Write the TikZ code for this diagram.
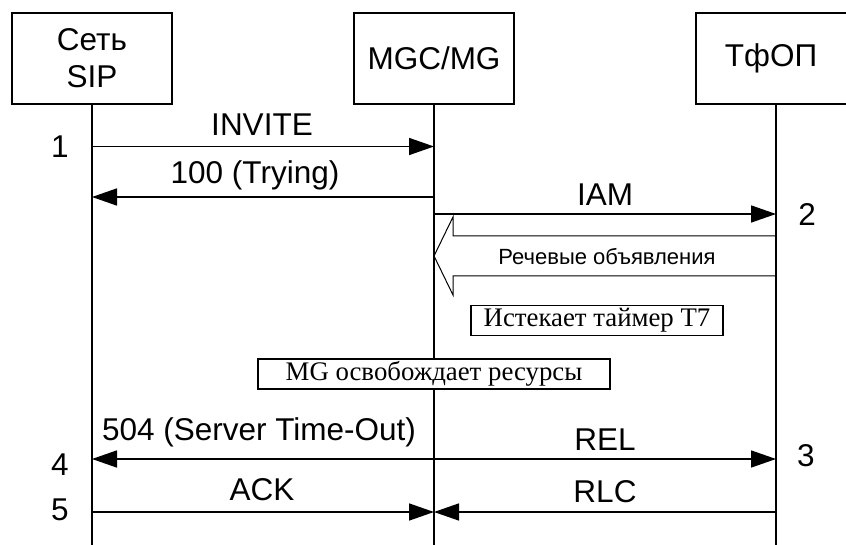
\documentclass[tikz,border=0pt]{standalone}
\usepackage{fontspec}
\setmainfont{Liberation Serif}
\newfontfamily\sansf{Liberation Sans}
\usetikzlibrary{arrows.meta}
\begin{document}
\begin{tikzpicture}[x=1pt,y=-1pt,
  ent/.style={draw,line width=2pt,minimum width=160pt,minimum height=91pt,
    font=\sansf\fontsize{31.5}{37}\selectfont,align=center,inner sep=0pt},
  life/.style={line width=1.5pt},
  msg/.style={line width=1.6pt,-{Triangle[length=25pt,width=17pt]}},
  lab/.style={font=\sansf\fontsize{31.5}{36}\selectfont,inner sep=0pt},
  small/.style={font=\sansf\fontsize{22}{25}\selectfont,inner sep=0pt},
  notebox/.style={draw,line width=1.5pt,fill=white,font=\fontsize{26.8}{30}\selectfont,
    inner sep=0pt,minimum height=30pt}]
\clip (0,0) rectangle (846,545);
\fill[white] (0,0) rectangle (846,545);
% entities
\node[ent] (sip) at (92,58.5) {Сеть\\SIP};
\node[ent] (mgc) at (434,58.5) {MGC/MG};
\node[ent] (pstn) at (776,58.5) {};
\node[lab] (pstnlabel) at (771,58.5) {ТфОП};
% lifeline ends
\coordinate (sipB) at (92,550);
\coordinate (mgcB) at (434,550);
\coordinate (pstnB) at (776,550);
\draw[life] (sip.south) -- (sipB);
\draw[life] (mgc.south) -- (mgcB);
\draw[life] (pstn.south) -- (pstnB);
% message end points
\coordinate (s1) at (92,146.5);  \coordinate (m1) at (434,146.5);
\coordinate (s2) at (92,197);    \coordinate (m2) at (434,197);
\coordinate (m3) at (434,214);   \coordinate (p3) at (776,214);
\coordinate (s4) at (92,459);    \coordinate (m4) at (434,459);  \coordinate (p4) at (776,459);
\coordinate (s5) at (92,512);    \coordinate (m5) at (434,512);  \coordinate (p5) at (776,512);
\draw[msg] (s1) -- (m1);
\draw[msg] (m2) -- (s2);
\draw[msg] (m3) -- (p3);
\draw[msg] (m4) -- (s4);
\draw[msg] (m4) -- (p4);
\draw[msg] (s5) -- (m5);
\draw[msg] (p5) -- (m5);
% labels
\node[lab] (l1) at (262,125) {INVITE};
\node[lab] (l2) at (255,175) {100 (Trying)};
\node[lab] (l3) at (605,195) {IAM};
\node[lab] (l4) at (259,432) {504 (Server Time-Out)};
\node[lab] (l5) at (605,440) {REL};
\node[lab] (l6) at (262,490) {ACK};
\node[lab] (l7) at (605,492) {RLC};
% numbers
\node[lab] (n1) at (60,147) {1};
\node[lab] (n2) at (807,215) {2};
\node[lab] (n3) at (806,456) {3};
\node[lab] (n4) at (60,465) {4};
\node[lab] (n5) at (60,510) {5};
% hollow arrow
\draw[line width=1pt] (776,236) -- (453,236) -- (453,217) -- (434,256)
  -- (453,295) -- (453,276) -- (776,276);
\node[small] (speech) at (607,257) {Речевые объявления};
% notes
\node[notebox,minimum width=252pt] (t7) at (597,320.5) {Истекает таймер Т7};
\node[notebox,minimum width=352pt] (rel) at (434,374) {MG освобождает ресурсы};
\end{tikzpicture}
\end{document}
